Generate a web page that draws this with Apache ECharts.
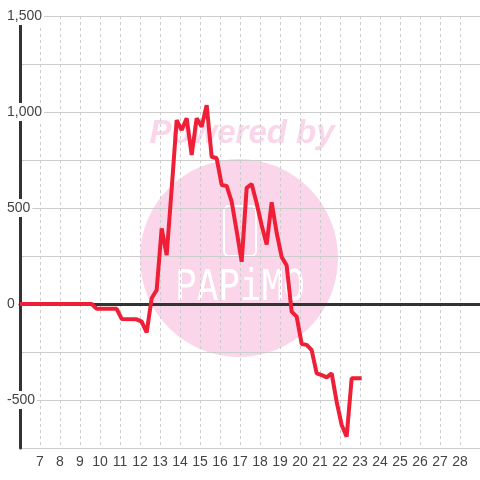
<!DOCTYPE html>
<html>
<head>
<meta charset="utf-8">
<script src="https://cdn.jsdelivr.net/npm/echarts@6/dist/echarts.min.js"></script>
<style>
  html, body { margin: 0; padding: 0; background: #fff; }
  #main { width: 480px; height: 480px; }
</style>
</head>
<body>
<div id="main"></div>
<script>
// time of day (hh:mm) and value
var times = ['06:00', '09:35', '09:50', '10:50', '11:05', '11:50', '12:05', '12:20', '12:35', '12:50',
    '13:05', '13:20', '13:35', '13:50', '14:05', '14:20', '14:35', '14:50', '15:05', '15:20',
    '15:35', '15:50', '16:05', '16:20', '16:35', '16:50', '17:05', '17:20', '17:35', '17:50',
    '18:05', '18:20', '18:35', '18:50', '19:05', '19:20', '19:35', '19:50', '20:05', '20:20',
    '20:35', '20:50', '21:05', '21:20', '21:35', '21:50', '22:05', '22:20', '22:35', '22:50', '23:05'];
var values = [0, 0, -25, -25, -78, -80, -92, -148, 30, 73,
    394, 255, 600, 958, 906, 967, 776, 967, 923, 1036,
    767, 759, 620, 615, 533, 380, 220, 605, 625, 525,
    410, 310, 530, 370, 245, 200, -40, -66, -208, -213,
    -240, -361, -370, -382, -361, -510, -630, -691, -387, -387, -387];
var xMin = 6, xMax = 29;
var yMin = -750, yMax = 1500;

var dom = document.getElementById("main");
var myChart = echarts.init(dom);

var lineData = [];
for (var i = 0; i < times.length; i++) {
    var p = times[i].split(':');
    lineData.push([+p[0] + (+p[1]) / 60, values[i]]);
}

option = {
    backgroundColor: '#fff',
    animation: false,
    grid: { left: 20, right: 0, top: 16, bottom: 32 },
    graphic: [
        {
            type: 'circle', z: -10, silent: true,
            shape: { cx: 239, cy: 258, r: 99 },
            style: { fill: '#fbd6ea' }
        },
        {
            type: 'text', z: -10, silent: true, x: 242, y: 134,
            style: {
                text: 'Powered by', fill: '#fbd6ea', align: 'center', verticalAlign: 'middle',
                font: 'italic bold 33px "Liberation Sans", Arial, sans-serif'
            }
        },
        {
            type: 'rect', z: -9, silent: true,
            shape: { x: 224, y: 206, width: 32, height: 50, r: 5 },
            style: { fill: 'none', stroke: '#fff', lineWidth: 2 }
        },
        {
            type: 'text', z: -9, silent: true, x: 240, y: 289,
            scaleY: 1.2,
            style: {
                text: 'PAPiMO', fill: '#fff', align: 'center', verticalAlign: 'middle',
                font: '36px "DejaVu Sans Mono", monospace'
            }
        }
    ],
    xAxis: [
        {
            type: 'value', min: xMin, max: xMax, interval: 1,
            axisLine: { show: false, onZero: false },
            axisTick: { show: false },
            axisLabel: {
                color: '#444', fontSize: 14, margin: 7,
                showMinLabel: false, showMaxLabel: false
            },
            splitLine: { show: true, lineStyle: { color: '#ccc', type: [3, 3], width: 1 } }
        },
        {
            type: 'value', min: xMin, max: xMax, position: 'top',
            axisLine: { show: true, onZero: true, lineStyle: { color: '#333', width: 3 } },
            axisTick: { show: false },
            axisLabel: { show: false },
            splitLine: { show: false }
        }
    ],
    yAxis: {
        type: 'value', min: yMin, max: yMax, interval: 250,
        axisLine: { show: true, onZero: false, lineStyle: { color: '#333', width: 3 } },
        axisTick: { show: false },
        axisLabel: {
            color: '#444', fontSize: 14, margin: 13, align: 'left',
            backgroundColor: '#fff', padding: [2, 2, 2, 0],
            formatter: function (v) {
                if (v % 500 !== 0 || v === yMin) return '';
                return v.toLocaleString('en-US');
            }
        },
        splitLine: { show: true, lineStyle: { color: '#ccc', width: 1 } }
    },
    series: [
        {
            type: 'line',
            xAxisIndex: 0,
            data: lineData,
            showSymbol: false,
            lineStyle: { color: '#ee1f36', width: 4 },
            itemStyle: { color: '#ee1f36' }
        }
    ]
};
myChart.setOption(option);
</script>
</body>
</html>
